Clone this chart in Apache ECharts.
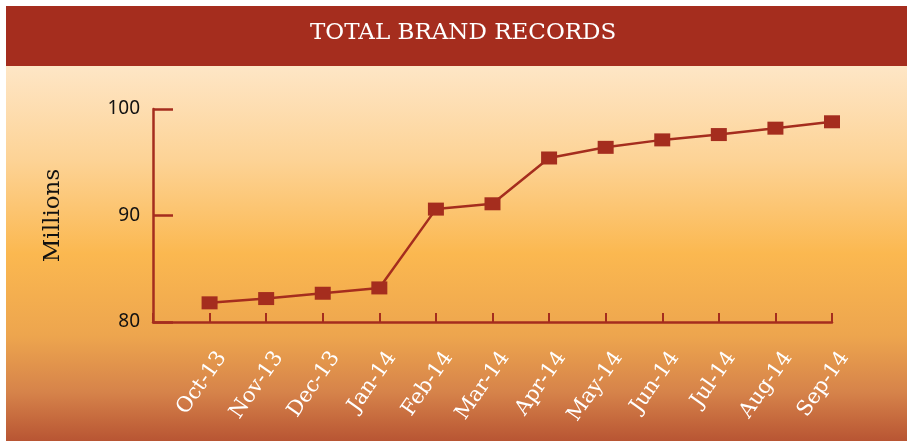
<!DOCTYPE html>
<html>
<head>
<meta charset="utf-8">
<title>Total Brand Records</title>
<script src="https://cdn.jsdelivr.net/npm/echarts@6.0.0/dist/echarts.min.js"></script>
<style>
  html, body { margin: 0; padding: 0; background: #fff; }
  #chart { width: 907px; height: 441px; }
</style>
</head>
<body>
<div id="chart"></div>
<script>
// data (millions)
var months = ['Oct-13', 'Nov-13', 'Dec-13', 'Jan-14', 'Feb-14', 'Mar-14',
  'Apr-14', 'May-14', 'Jun-14', 'Jul-14', 'Aug-14', 'Sep-14']
var brandRecords = [81.8, 82.2, 82.7, 83.2, 90.6, 91.1, 95.4, 96.4, 97.1, 97.6, 98.2, 98.8]
var yTicks = { min: 80, max: 100, step: 10 }

var red = '#a52d1e'

// empty first slot so the first month sits one step in from the y axis
var xData = [''].concat(months)
var lineData = ['-'].concat(brandRecords)

var chart = echarts.init(document.getElementById('chart'))
chart.setOption({
  backgroundColor: '#fff',
  animation: false,
  graphic: [
    {
      type: 'rect',
      z: -10,
      silent: true,
      shape: { x: 6, y: 66, width: 901, height: 375 },
      style: {
        fill: new echarts.graphic.LinearGradient(0, 0, 0, 1, [
          { offset: 0, color: '#fee6c6' },
          { offset: 0.25, color: '#fdd396' },
          { offset: 0.5, color: '#fbb850' },
          { offset: 0.72, color: '#eda54e' },
          { offset: 0.87, color: '#d6834a' },
          { offset: 1, color: '#b85533' }
        ])
      }
    },
    {
      type: 'rect',
      z: -10,
      silent: true,
      shape: { x: 6, y: 6, width: 901, height: 60 },
      style: { fill: red }
    }
  ],
  title: {
    text: 'TOTAL BRAND RECORDS',
    left: 305,
    top: 17,
    textStyle: {
      color: '#fff',
      fontFamily: 'DejaVu Serif',
      fontSize: 23,
      fontWeight: 'normal'
    }
  },
  grid: { left: 153, right: 75, top: 109, bottom: 119 },
  xAxis: {
    type: 'category',
    boundaryGap: false,
    data: xData,
    axisLine: { lineStyle: { color: red, width: 2.5 } },
    axisTick: { inside: true, length: 9, interval: 0, lineStyle: { color: red, width: 2 } },
    axisLabel: {
      interval: 0,
      rotate: 55,
      margin: 23,
      verticalAlign: 'top',
      padding: [5, 0, 0, 0],
      color: '#fff',
      fontFamily: 'DejaVu Serif',
      fontSize: 21
    },
    splitLine: { show: false }
  },
  yAxis: {
    type: 'value',
    min: yTicks.min,
    max: yTicks.max,
    interval: yTicks.step,
    name: 'Millions',
    nameLocation: 'middle',
    nameRotate: 90,
    nameGap: 88,
    nameTextStyle: { color: '#111', fontFamily: 'DejaVu Serif', fontSize: 23 },
    axisLine: { show: true, lineStyle: { color: red, width: 2.5 } },
    axisTick: { show: true, inside: true, length: 20, lineStyle: { color: red, width: 2.5 } },
    axisLabel: { margin: 13, color: '#111', fontFamily: 'Noto Sans', fontSize: 19 },
    splitLine: { show: false }
  },
  series: [
    {
      type: 'line',
      data: lineData,
      symbol: 'rect',
      symbolSize: [16, 13],
      lineStyle: { color: red, width: 2.5 },
      itemStyle: { color: red }
    }
  ]
})
</script>
</body>
</html>
